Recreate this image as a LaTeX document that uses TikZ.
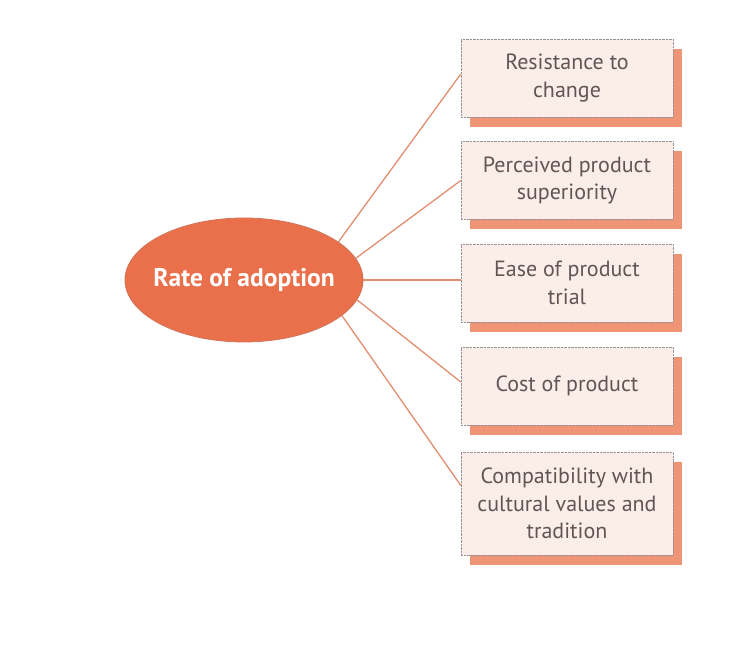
\documentclass[tikz,border=0pt]{standalone}
\usepackage{fontspec}
\setsansfont{PT Sans}
\usetikzlibrary{shapes.geometric,shadows}
\definecolor{orangefill}{RGB}{234,112,76}
\definecolor{boxfill}{RGB}{251,237,232}
\definecolor{shadowc}{RGB}{240,148,118}
\definecolor{linec}{RGB}{226,142,112}
\definecolor{textc}{RGB}{95,86,86}
\definecolor{borderc}{RGB}{150,145,150}
\begin{document}
\begin{tikzpicture}[x=1pt,y=1pt,
  factor/.style={draw=borderc, densely dotted, fill=boxfill,
    minimum width=212pt, minimum height=78pt, align=center, inner sep=0pt,
    font=\sffamily\fontsize{22}{27.5}\selectfont, text=textc,
    general shadow={fill=shadowc, shadow xshift=9pt, shadow yshift=-10pt}},
  hub/.style={ellipse, fill=orangefill, draw=orangefill!75!gray, line width=0.8pt,
    minimum width=238pt, minimum height=124pt, inner xsep=-10pt, inner ysep=0pt,
    font=\sffamily\bfseries\fontsize{25.5}{30}\selectfont, text=white},
  link/.style={draw=linec, line width=1.3pt}]
\useasboundingbox (0,0) rectangle (752,652);
\node[hub] (hub) at (244,372) {Rate of adoption};
\node[factor] (b1) at (567,574) {Resistance to\\change};
\node[factor] (b2) at (567,471.5) {Perceived product\\superiority};
\node[factor] (b3) at (567,369) {Ease of product\\trial};
\node[factor] (b4) at (567,266) {Cost of product};
\node[factor, minimum height=103pt] (b5) at (567,148.5) {Compatibility with\\cultural values and\\tradition};
\draw[link] (hub.22) -- ([yshift=4pt]b1.west);
\draw[link] (hub.11) -- (b2.west);
\draw[link] (hub.0) -- ([yshift=3pt]b3.west);
\draw[link] (hub.-10) -- ([yshift=4pt]b4.west);
\draw[link] (hub.-20) -- ([yshift=18pt]b5.west);
\end{tikzpicture}
\end{document}
